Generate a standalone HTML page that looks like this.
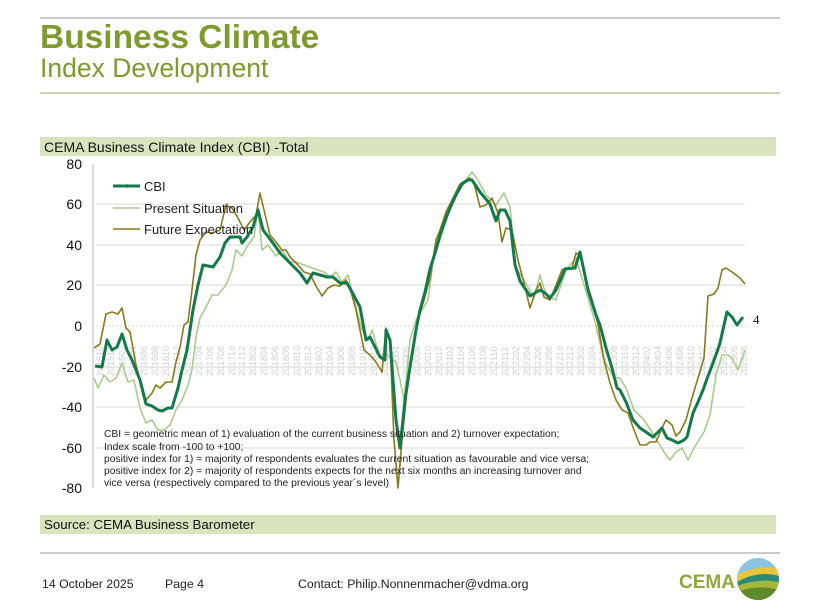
<!DOCTYPE html>
<html><head><meta charset="utf-8"><style>
html,body{margin:0;padding:0;background:#fff;width:820px;height:615px;overflow:hidden;font-family:"Liberation Sans",Arial,sans-serif}
</style></head><body>
<svg width="820" height="615" xmlns="http://www.w3.org/2000/svg" font-family="Liberation Sans, Arial, sans-serif">
<line x1="40" y1="18" x2="780" y2="18" stroke="#999" stroke-width="1"/>
<text x="40" y="48" font-size="33.5" font-weight="bold" fill="#7f9a2e">Business Climate</text>
<text x="40" y="77" font-size="26.5" fill="#7f9a2e">Index Development</text>
<line x1="40" y1="93" x2="780" y2="93" stroke="#9aa86a" stroke-width="1"/>
<rect x="40" y="137" width="736" height="19" fill="#d7e4bd"/>
<text x="44" y="152" font-size="14" fill="#111">CEMA Business Climate Index (CBI) -Total</text>
<g stroke="#d9d9d9" stroke-width="1">
<line x1="96" y1="204" x2="745" y2="204"/><line x1="96" y1="245" x2="745" y2="245"/>
<line x1="96" y1="285" x2="745" y2="285"/><line x1="96" y1="367" x2="745" y2="367"/>
<line x1="96" y1="407" x2="745" y2="407"/><line x1="96" y1="448" x2="745" y2="448"/>
<line x1="96" y1="326" x2="745" y2="326" stroke-dasharray="2,2"/>
</g>
<line x1="93" y1="164" x2="93" y2="488" stroke="#bbb"/>
<g font-size="14" fill="#111" text-anchor="end">
<text x="82" y="169">80</text><text x="82" y="209">60</text><text x="82" y="250">40</text>
<text x="82" y="290">20</text><text x="82" y="331">0</text><text x="82" y="372">-20</text>
<text x="82" y="412">-40</text><text x="82" y="453">-60</text><text x="82" y="493">-80</text>
</g>
<g font-size="9" fill="#cfcfcf">
<text transform="translate(103,376) rotate(-90)">201510</text><text transform="translate(114,376) rotate(-90)">201512</text>
<text transform="translate(125,376) rotate(-90)">201602</text><text transform="translate(136,376) rotate(-90)">201604</text>
<text transform="translate(147,376) rotate(-90)">201606</text><text transform="translate(158,376) rotate(-90)">201608</text>
<text transform="translate(169,376) rotate(-90)">201610</text><text transform="translate(180,376) rotate(-90)">201612</text>
<text transform="translate(191,376) rotate(-90)">201702</text><text transform="translate(202,376) rotate(-90)">201704</text>
<text transform="translate(213,376) rotate(-90)">201706</text><text transform="translate(224,376) rotate(-90)">201708</text>
<text transform="translate(235,376) rotate(-90)">201710</text><text transform="translate(245,376) rotate(-90)">201712</text>
<text transform="translate(256,376) rotate(-90)">201802</text><text transform="translate(267,376) rotate(-90)">201804</text>
<text transform="translate(278,376) rotate(-90)">201806</text><text transform="translate(289,376) rotate(-90)">201808</text>
<text transform="translate(300,376) rotate(-90)">201810</text><text transform="translate(311,376) rotate(-90)">201812</text>
<text transform="translate(322,376) rotate(-90)">201902</text><text transform="translate(333,376) rotate(-90)">201904</text>
<text transform="translate(344,376) rotate(-90)">201906</text><text transform="translate(355,376) rotate(-90)">201908</text>
<text transform="translate(366,376) rotate(-90)">201910</text><text transform="translate(377,376) rotate(-90)">201912</text>
<text transform="translate(388,376) rotate(-90)">202002</text><text transform="translate(399,376) rotate(-90)">202004</text>
<text transform="translate(409,376) rotate(-90)">202006</text><text transform="translate(420,376) rotate(-90)">202008</text>
<text transform="translate(431,376) rotate(-90)">202010</text><text transform="translate(442,376) rotate(-90)">202012</text>
<text transform="translate(453,376) rotate(-90)">202102</text><text transform="translate(464,376) rotate(-90)">202104</text>
<text transform="translate(475,376) rotate(-90)">202106</text><text transform="translate(486,376) rotate(-90)">202108</text>
<text transform="translate(497,376) rotate(-90)">202110</text><text transform="translate(508,376) rotate(-90)">202112</text>
<text transform="translate(519,376) rotate(-90)">202202</text><text transform="translate(530,376) rotate(-90)">202204</text>
<text transform="translate(541,376) rotate(-90)">202206</text><text transform="translate(552,376) rotate(-90)">202208</text>
<text transform="translate(563,376) rotate(-90)">202210</text><text transform="translate(573,376) rotate(-90)">202212</text>
<text transform="translate(584,376) rotate(-90)">202302</text><text transform="translate(595,376) rotate(-90)">202304</text>
<text transform="translate(606,376) rotate(-90)">202306</text><text transform="translate(617,376) rotate(-90)">202308</text>
<text transform="translate(628,376) rotate(-90)">202310</text><text transform="translate(639,376) rotate(-90)">202312</text>
<text transform="translate(650,376) rotate(-90)">202402</text><text transform="translate(661,376) rotate(-90)">202404</text>
<text transform="translate(672,376) rotate(-90)">202406</text><text transform="translate(683,376) rotate(-90)">202408</text>
<text transform="translate(694,376) rotate(-90)">202410</text><text transform="translate(705,376) rotate(-90)">202412</text>
<text transform="translate(716,376) rotate(-90)">202502</text><text transform="translate(727,376) rotate(-90)">202504</text>
<text transform="translate(737,376) rotate(-90)">202506</text><text transform="translate(747,376) rotate(-90)">202508</text>
</g>
<g fill="none" stroke-linejoin="round">
<polyline stroke="#a9cc8c" stroke-width="1.6" points="94,378 98,388 104,375 110,382 116,378 122,363 128,382 134,380 140,408 146,423 152,420 158,430 164,430 170,425 176,410 182,400 188,385 192,370 196,337 200,318 206,307 212,295 218,295 226,285 232,270 236,250 242,256 248,245 254,237 258,208 262,250 268,245 276,256 282,250 290,262 296,262 304,265 312,268 318,270 324,272 330,277 336,272 342,282 348,275 354,300 362,330 368,340 372,330 380,357 386,353 392,360 396,362 400,380 404,400 410,340 416,320 422,310 428,300 434,255 440,240 448,215 456,195 466,180 472,172 478,180 486,195 496,205 504,193 510,207 516,268 524,280 534,298 540,275 546,295 556,300 566,270 576,258 584,285 594,318 604,360 614,378 620,378 626,388 634,410 644,420 654,435 664,452 670,460 676,452 682,448 688,460 694,448 704,432 710,415 716,375 722,355 728,355 732,358 738,370 745,350"/>
<polyline stroke="#8a7a1c" stroke-width="1.6" points="94,348 100,344 106,314 112,312 118,314 122,308 126,328 130,332 136,365 140,380 146,400 152,393 156,385 160,388 166,382 172,382 176,362 180,347 184,325 188,322 192,290 196,255 200,240 206,232 212,233 220,230 226,205 232,208 238,218 244,230 250,222 256,215 260,193 264,210 270,235 276,242 282,250 286,250 290,257 298,265 304,272 310,274 316,286 322,296 328,288 334,285 340,286 346,280 350,288 356,310 364,350 370,355 376,362 382,372 386,328 390,340 394,440 398,488 402,440 408,380 412,352 418,320 424,300 430,278 436,240 440,230 446,212 452,200 460,184 466,180 470,178 474,183 480,207 486,205 492,198 498,213 502,242 506,228 512,230 518,260 524,283 530,308 536,290 540,283 544,297 550,300 556,285 562,270 566,268 572,268 576,253 580,255 586,280 592,300 598,325 604,360 610,383 616,400 622,410 628,413 634,430 640,445 646,445 650,442 656,442 662,428 666,420 672,425 676,436 680,432 686,420 692,398 698,378 704,358 708,296 714,294 718,288 722,270 726,268 732,272 736,275 740,278 745,284"/>
<polyline stroke="#157a4a" stroke-width="3" points="95,366 102,367 107,340 112,350 117,347 122,334 127,350 132,360 140,380 146,404 152,406 158,410 162,411 168,408 172,408 178,388 182,370 187,350 193,310 198,285 203,265 208,266 213,267 220,257 225,243 230,237 240,237 242,243 247,237 253,227 258,210 263,230 273,243 280,253 290,263 300,273 307,283 313,273 320,275 327,277 333,277 340,283 347,283 352,292 360,307 366,340 370,337 375,347 380,357 385,360 386,330 390,340 396,420 400,448 405,400 410,367 416,330 420,310 425,292 430,269 436,250 440,235 446,218 450,208 456,195 462,184 468,180 472,180 480,192 490,204 496,221 500,210 505,210 510,221 515,265 520,281 530,296 540,290 545,293 550,298 556,290 560,281 565,269 575,268 580,252 588,290 596,315 600,325 606,348 612,368 617,388 620,390 626,402 633,420 640,428 646,432 653,437 658,432 662,428 667,438 672,440 678,443 684,440 687,437 693,413 698,402 703,390 708,376 713,363 717,352 720,343 724,325 727,312 732,317 737,325 743,317"/>
</g>
<text x="753" y="324" font-size="13" fill="#111" font-family="Liberation Serif, serif">4</text>
<g font-size="13" fill="#222">
<line x1="113" y1="186" x2="140" y2="186" stroke="#157a4a" stroke-width="3"/><circle cx="127" cy="186" r="1.8" fill="#157a4a"/>
<text x="144" y="191">CBI</text>
<line x1="113" y1="208" x2="140" y2="208" stroke="#a9cc8c" stroke-width="1.6"/>
<text x="144" y="213">Present Situation</text>
<line x1="113" y1="229" x2="140" y2="229" stroke="#8a7a1c" stroke-width="1.6"/>
<text x="144" y="234">Future Expectation</text>
</g>
<g font-size="10.3" fill="#222">
<text x="104" y="437">CBI = geometric mean of 1) evaluation of the current business situation and 2) turnover expectation;</text>
<text x="104" y="450">Index scale from -100 to +100;</text>
<text x="104" y="462">positive index for 1) = majority of respondents evaluates the current situation as favourable and vice versa;</text>
<text x="104" y="474">positive index for 2) = majority of respondents expects for the next six months an increasing turnover and</text>
<text x="104" y="486">vice versa (respectively compared to the previous year´s level)</text>
</g>
<rect x="40" y="515" width="736" height="19" fill="#d7e4bd"/>
<text x="44" y="529" font-size="13.3" fill="#111">Source: CEMA Business Barometer</text>
<line x1="40" y1="553" x2="780" y2="553" stroke="#999"/>
<g font-size="12.3" fill="#222">
<text x="42" y="588">14 October 2025</text>
<text x="165" y="588">Page 4</text>
<text x="298" y="588">Contact: Philip.Nonnenmacher@vdma.org</text>
</g>
<text x="679" y="588" font-size="19" font-weight="bold" fill="#8fa83a">CEMA</text>
<defs><clipPath id="c"><circle cx="758" cy="579" r="21"/></clipPath></defs>
<g clip-path="url(#c)">
<rect x="737" y="558" width="42" height="42" fill="#8bc4e0"/>
<path d="M737,575 Q755,565 779,568 L779,600 L737,600Z" fill="#e8c53a"/>
<path d="M737,582 Q758,570 779,576 L779,600 L737,600Z" fill="#2a8a7a"/>
<path d="M737,586 Q758,578 779,582 L779,600 L737,600Z" fill="#a6b83a"/>
<path d="M737,592 Q758,584 779,590 L779,600 L737,600Z" fill="#5f8a2a"/>
</g>
</svg>
</body></html>
